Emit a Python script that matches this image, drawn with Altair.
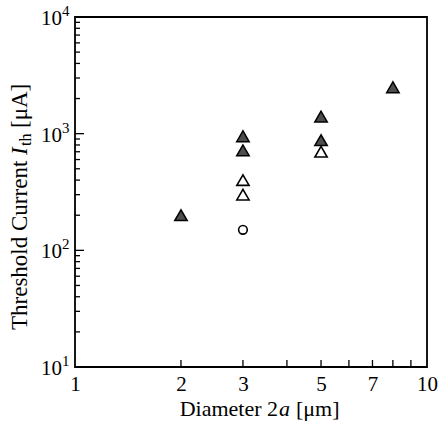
import altair as alt
import pandas as pd

# ---- data ----
filled_x = [2, 3, 3, 5, 5, 8]
filled_y = [200, 950, 720, 1400, 880, 2500]
open_x = [3, 3, 5]
open_y = [400, 300, 700]
circle_x = [3]
circle_y = [150]

x_label_values = [1, 2, 3, 5, 7, 10]
x_tick_values = [2, 3, 4, 5, 6, 7, 8, 9]
y_major = [10, 100, 1000, 10000]
y_exponents = ["1", "2", "3", "4"]
y_minor = [20, 30, 40, 50, 60, 70, 80, 90,
           200, 300, 400, 500, 600, 700, 800, 900,
           2000, 3000, 4000, 5000, 6000, 7000, 8000, 9000]

FONT = "Liberation Serif"
W, H = 352, 350

xscale = alt.Scale(type="log", domain=[1, 10], nice=False)
yscale = alt.Scale(type="log", domain=[10, 10000], nice=False)
xaxis = alt.Axis(values=x_label_values, format="~g", ticks=False, domain=False,
                 grid=False, labelFont=FONT, labelFontSize=21, labelColor="black",
                 labelPadding=6, labelFlush=False, labelOverlap=False, title=None)


def X(field):
    return alt.X(field, type="quantitative", scale=xscale, axis=xaxis)


def Y(field):
    return alt.Y(field, type="quantitative", scale=yscale, axis=None)


filled_df = pd.DataFrame({"x": filled_x, "y": filled_y})
open_df = pd.DataFrame({"x": open_x, "y": open_y})
circle_df = pd.DataFrame({"x": circle_x, "y": circle_y})

filled = alt.Chart(filled_df).mark_point(
    shape="triangle-up", filled=True, fill="#4d4d4d", stroke="black",
    strokeWidth=1.5, size=155, opacity=1, fillOpacity=1
).encode(x=X("x"), y=Y("y"))

opened = alt.Chart(open_df).mark_point(
    shape="triangle-up", filled=True, fill="white", stroke="black",
    strokeWidth=1.6, size=150, opacity=1, fillOpacity=1
).encode(x=X("x"), y=Y("y"))

circ = alt.Chart(circle_df).mark_point(
    shape="circle", filled=True, fill="white", stroke="black",
    strokeWidth=1.6, size=75, opacity=1, fillOpacity=1
).encode(x=X("x"), y=Y("y"))

# inward ticks
ymaj_df = pd.DataFrame({"v": y_major, "e": y_exponents, "b": ["10"] * len(y_major)})
ymin_df = pd.DataFrame({"v": y_minor})
xt_df = pd.DataFrame({"v": x_tick_values})

ymaj_ticks = alt.Chart(ymaj_df).mark_rule(color="black", strokeWidth=1.3).encode(
    y=Y("v"), x=alt.value(0), x2=alt.value(9))
ymin_ticks = alt.Chart(ymin_df).mark_rule(color="black", strokeWidth=1.3).encode(
    y=Y("v"), x=alt.value(0), x2=alt.value(5))
x_ticks = alt.Chart(xt_df).mark_rule(color="black", strokeWidth=1.3).encode(
    x=X("v"), y=alt.value(H), y2=alt.value(H - 7))

# y tick labels 10^n
ylab_base = alt.Chart(ymaj_df).mark_text(
    align="right", baseline="alphabetic", font=FONT, fontSize=21, color="black", dy=8
).encode(y=Y("v"), x=alt.value(-13), text="b:N")
ylab_exp = alt.Chart(ymaj_df).mark_text(
    align="left", baseline="alphabetic", font=FONT, fontSize=15, color="black", dy=-1
).encode(y=Y("v"), x=alt.value(-13), text="e:N")

# x title: Diameter 2a [μm]
one = pd.DataFrame({"t": [""]})
xt_y = 399
xa = 203
xt1 = alt.Chart(one).mark_text(align="right", baseline="alphabetic", font=FONT,
                               fontSize=22, color="black", text="Diameter 2").encode(
    x=alt.value(xa), y=alt.value(xt_y))
xt2 = alt.Chart(one).mark_text(align="left", baseline="alphabetic", font=FONT,
                               fontSize=22, fontStyle="italic", color="black",
                               text="a").encode(x=alt.value(xa + 1), y=alt.value(xt_y))
xt3 = alt.Chart(one).mark_text(align="left", baseline="alphabetic", font=FONT,
                               fontSize=22, color="black", text="[μm]").encode(
    x=alt.value(xa + 18), y=alt.value(xt_y))

# y title: Threshold Current I_th [μA]  (rotated, reads bottom to top)
yt_x = -48
y0 = 313
yt1 = alt.Chart(one).mark_text(align="left", baseline="alphabetic", font=FONT,
                               fontSize=23, angle=270, color="black",
                               text="Threshold Current").encode(
    x=alt.value(yt_x), y=alt.value(y0))
yI = y0 - 175
yt2 = alt.Chart(one).mark_text(align="left", baseline="alphabetic", font=FONT,
                               fontSize=23, angle=270, fontStyle="italic", color="black",
                               text="I").encode(x=alt.value(yt_x), y=alt.value(yI))
yt3 = alt.Chart(one).mark_text(align="left", baseline="alphabetic", font=FONT,
                               fontSize=16, angle=270, color="black",
                               text="th").encode(x=alt.value(yt_x + 4), y=alt.value(yI - 9))
yt4 = alt.Chart(one).mark_text(align="left", baseline="alphabetic", font=FONT,
                               fontSize=23, angle=270, color="black",
                               text="[μA]").encode(x=alt.value(yt_x), y=alt.value(yI - 27))

chart = alt.layer(
    ymin_ticks, ymaj_ticks, x_ticks, filled, opened, circ,
    ylab_base, ylab_exp, xt1, xt2, xt3, yt1, yt2, yt3, yt4
).properties(
    width=W, height=H,
    autosize=alt.AutoSizeParams(type="none"),
    padding={"left": 75, "top": 17, "right": 11, "bottom": 55},
    background="white",
).configure_view(stroke="black", strokeWidth=1.8)

chart.save("out.html", embed_options={"renderer": "svg", "actions": False})
